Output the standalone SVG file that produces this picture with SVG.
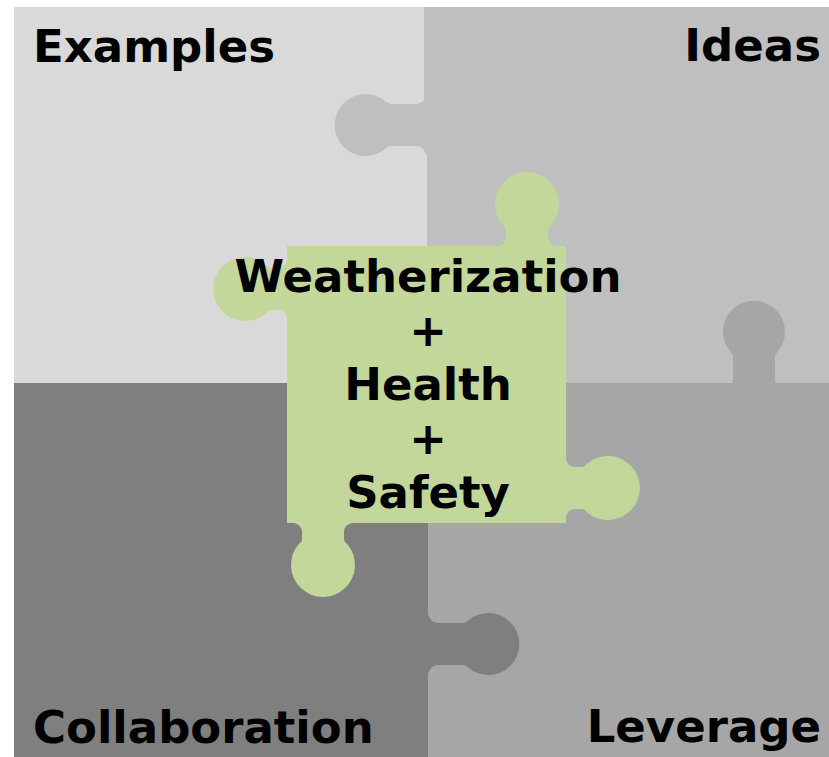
<svg xmlns="http://www.w3.org/2000/svg" width="829" height="757" viewBox="0 0 829 757">
<style>
.tl{fill:#d9d9d9}.tr{fill:#bfbfbf}.bl{fill:#7f7f7f}.br{fill:#a6a6a6}.gr{fill:#c4d79b}
text{font-family:"DejaVu Sans","Liberation Sans",sans-serif;font-weight:bold;font-size:45px;fill:#000}
.c{text-anchor:middle}.e{text-anchor:end}
</style>
<defs>
<path id="tabA" d="M-3,-30 L0,-30 Q2,-21 11,-21 L35,-21 Q38,-21 40,-23.4 A31,31 0 1 1 40,23.4 Q38,21 35,21 L11,21 Q2,21 0,30 L-3,30 Z"/>
<path id="tabB" d="M-3,-29 L0,-29 Q2,-21 9,-21 L16,-21 Q19,-21 21,-24.2 A32,32 0 1 1 21,24.2 Q19,21 16,21 L9,21 Q2,21 0,29 L-3,29 Z"/>
</defs>
<rect width="829" height="757" fill="#ffffff"/>
<g id="examples">
<path class="tl" d="M14,7 H425 V150 H428 V383 H14 Z"/>
<use href="#tabA" class="tl" transform="translate(100,377) rotate(90)"/>
<text x="33" y="62">Examples</text>
</g>
<g id="ideas">
<path class="tr" d="M424,7 H829 V383 H427 V150 H424 Z"/>
<use href="#tabA" class="tr" transform="translate(426,125) rotate(180)"/>
<text class="e" x="821" y="61">Ideas</text>
</g>
<g id="leverage">
<path class="br" d="M428,383 H829 V757 H428 Z"/>
<use href="#tabA" class="br" transform="translate(754,392) rotate(-90)"/>
<text class="e" x="821" y="742">Leverage</text>
</g>
<g id="collaboration">
<path class="bl" d="M14,383 H428 V757 H14 Z"/>
<use href="#tabA" class="bl" transform="translate(428,644)"/>
<text x="33" y="743">Collaboration</text>
</g>
<g id="center">
<rect class="gr" x="287" y="246" width="279" height="277"/>
<use href="#tabB" class="gr" transform="translate(527,246) rotate(-90)"/>
<use href="#tabB" class="gr" transform="translate(287,289) rotate(180)"/>
<use href="#tabB" class="gr" transform="translate(566,488)"/>
<use href="#tabB" class="gr" transform="translate(323,523) rotate(90)"/>
<text class="c" x="428" y="292">Weatherization</text>
<text class="c" x="428" y="346">+</text>
<text class="c" x="428" y="400">Health</text>
<text class="c" x="428" y="454">+</text>
<text class="c" x="428" y="508">Safety</text>
</g>
<g id="connectors"></g>
</svg>
